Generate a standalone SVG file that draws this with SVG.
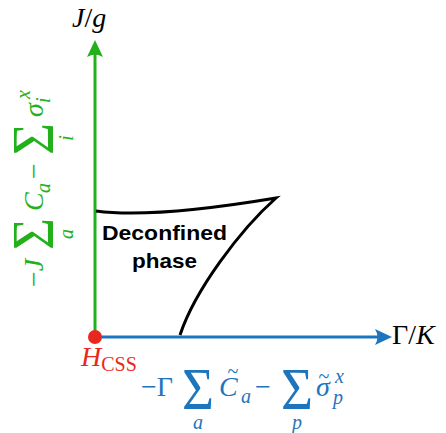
<svg xmlns="http://www.w3.org/2000/svg" width="446" height="433" viewBox="0 0 446 433">
<defs>
<style>
.m{font-family:"Liberation Serif","Times New Roman",serif;font-size:28px}
.i{font-style:italic}
.s{font-size:20px}
.big{font-size:59px}
.til{font-size:20px}
.g{fill:#22b11a}
.b{fill:#1d76bd}
.k{fill:#000}
.r{fill:#e8281e}
.lbl{font-family:"Liberation Sans",Arial,sans-serif;font-weight:bold;font-size:21px;fill:#000}
</style>
<marker id="ag" markerUnits="userSpaceOnUse" viewBox="-18 -9 20 18" markerWidth="20" markerHeight="18" refX="-8" refY="0" orient="auto">
<path d="M0,0 L-17,-8 Q-12,0 -17,8 Z" fill="#22b11a"/>
</marker>
<marker id="ab" markerUnits="userSpaceOnUse" viewBox="-18 -9 20 18" markerWidth="20" markerHeight="18" refX="-8" refY="0" orient="auto">
<path d="M0,0 L-17,-8 Q-12,0 -17,8 Z" fill="#1d76bd"/>
</marker>
</defs>
<rect width="446" height="433" fill="#fff"/>
<g id="connectors">
<line x1="95" y1="337" x2="95" y2="48" stroke="#22b11a" stroke-width="3" marker-end="url(#ag)"/>
<line x1="95" y1="337" x2="384" y2="337" stroke="#1d76bd" stroke-width="3" marker-end="url(#ab)"/>
</g>
<g id="phase-boundary" fill="none" stroke="#000" stroke-width="3" stroke-linejoin="miter">
<path d="M96,211 C140,217 210,209 276,198 C240,230 195,290 180,335"/>
</g>
<g id="deconfined-phase">
<text class="lbl" x="102" y="240" textLength="125" lengthAdjust="spacingAndGlyphs">Deconfined</text>
<text class="lbl" x="132" y="268" textLength="65" lengthAdjust="spacingAndGlyphs">phase</text>
</g>
<g id="origin">
<circle cx="95" cy="337" r="7" fill="#e8281e"/>
<text class="m r" x="81" y="366"><tspan class="i">H</tspan><tspan class="s" dy="5">CSS</tspan></text>
</g>
<g id="y-axis-label">
<text class="m k" x="72" y="27"><tspan class="i">J</tspan>/<tspan class="i">g</tspan></text>
</g>
<g id="x-axis-label">
<text class="m k" x="392" y="344" font-size="30">Γ/<tspan class="i">K</tspan></text>
</g>
<g id="x-hamiltonian" class="m b">
<text x="141" y="396">−Γ</text>
<text class="big" x="182" y="409" textLength="32" lengthAdjust="spacingAndGlyphs">Σ</text>
<text class="s i" x="198" y="429" text-anchor="middle">a</text>
<text class="i" x="219" y="396">C</text>
<text class="til" x="233" y="378" text-anchor="middle">~</text>
<text class="s i" x="241" y="403">a</text>
<text x="255" y="396">−</text>
<text class="big" x="281" y="409" textLength="32" lengthAdjust="spacingAndGlyphs">Σ</text>
<text class="s i" x="297" y="429" text-anchor="middle">p</text>
<text class="i" x="316" y="396">σ</text>
<text class="til" x="324" y="383" text-anchor="middle">~</text>
<text class="s i" x="335" y="383">x</text>
<text class="s i" x="333" y="404">p</text>
</g>
<g id="y-hamiltonian" class="m g" transform="translate(43,287) rotate(-90)">
<text x="0" y="0">−<tspan class="i">J</tspan></text>
<text class="big" x="37" y="10" textLength="32" lengthAdjust="spacingAndGlyphs">Σ</text>
<text class="s i" x="53" y="30" text-anchor="middle">a</text>
<text class="i" x="76" y="0">C</text>
<text class="s i" x="94" y="7">a</text>
<text x="108" y="0">−</text>
<text class="big" x="132" y="10" textLength="32" lengthAdjust="spacingAndGlyphs">Σ</text>
<text class="s i" x="149" y="30" text-anchor="middle">i</text>
<text class="i" x="170" y="0">σ</text>
<text class="s i" x="188" y="-13">x</text>
<text class="s i" x="184" y="7">i</text>
</g>
</svg>
